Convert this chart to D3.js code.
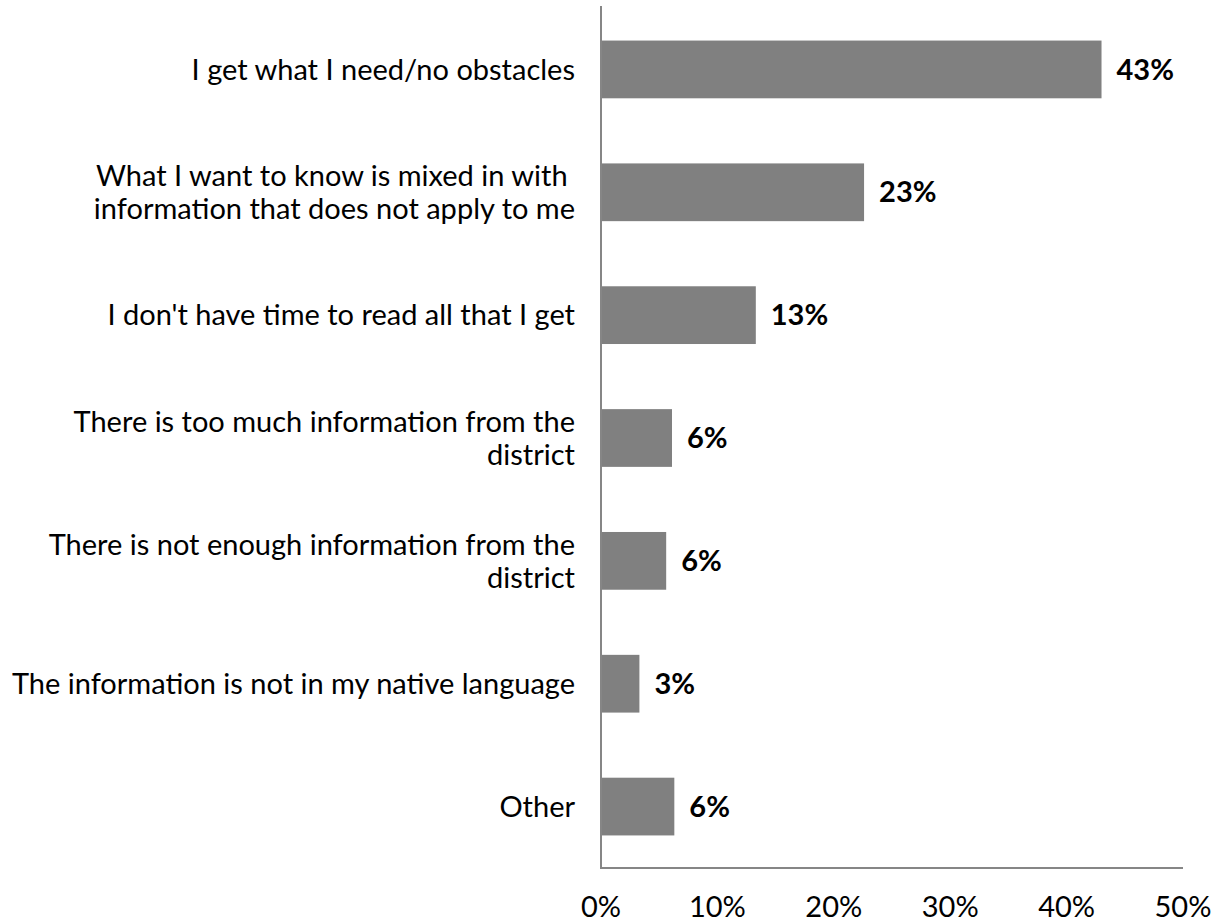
<!DOCTYPE html>
<html><head><meta charset="utf-8">
<script src="https://cdn.jsdelivr.net/npm/d3@7"></script>
<style>body{margin:0;background:#fff}text{font-family:Lato,"Open Sans",sans-serif;white-space:pre}</style>
</head><body><svg id="c" width="1223" height="924"></svg>
<script>
const categories = [
  ["I get what I need/no obstacles"],
  ["What I want to know is mixed in with ", "information that does not apply to me"],
  ["I don't have time to read all that I get"],
  ["There is too much information from the", "district"],
  ["There is not enough information from the", "district"],
  ["The information is not in my native language"],
  ["Other"]
];
const values = [43.0, 22.6, 13.3, 6.1, 5.6, 3.3, 6.3];
const valueLabels = ["43%", "23%", "13%", "6%", "6%", "3%", "6%"];
const ticks = [0, 10, 20, 30, 40, 50];

(function(){
const svg = d3.select("#c");
const mLeft = 601, mRight = 1183, mTop = 6, mBottom = 868;
const x = d3.scaleLinear().domain([0, 50]).range([mLeft, mRight]);
const y = d3.scaleBand().domain(d3.range(categories.length)).range([mTop + 2, mBottom]).paddingInner(0.53).paddingOuter(0.265);

svg.selectAll("rect.bar").data(values).join("rect").attr("class","bar")
  .attr("x", x(0)).attr("y", (d,i)=>y(i)).attr("width", d=>x(d)-x(0)).attr("height", y.bandwidth())
  .attr("fill", "#808080");

svg.selectAll("text.val").data(values).join("text").attr("class","val")
  .attr("x", d=>x(d)+15).attr("y", (d,i)=>y(i)+y.bandwidth()/2).attr("dy","0.35em")
  .attr("font-size", 29).attr("font-weight", "bold").attr("fill", "#000")
  .text((d,i)=>valueLabels[i]);

const lab = svg.selectAll("text.cat").data(categories).join("text").attr("class","cat")
  .attr("text-anchor","end").attr("font-size", 29).attr("fill","#000");
lab.each(function(lines, i){
  const cy = y(i) + y.bandwidth()/2;
  const lh = 33;
  const start = cy - (lines.length-1)*lh/2;
  d3.select(this).selectAll("tspan").data(lines).join("tspan")
    .attr("x", 575).attr("y", (d,j)=>start + j*lh).attr("dy","0.35em").text(d=>d);
});

svg.append("line").attr("x1", mLeft).attr("x2", mLeft).attr("y1", mTop).attr("y2", mBottom+1)
  .attr("stroke", "#868686").attr("stroke-width", 2);
svg.append("line").attr("x1", mLeft).attr("x2", mRight).attr("y1", mBottom).attr("y2", mBottom)
  .attr("stroke", "#868686").attr("stroke-width", 2);

svg.selectAll("text.tick").data(ticks).join("text").attr("class","tick")
  .attr("x", d=>x(d)).attr("y", 907).attr("dy","0.35em").attr("text-anchor","middle")
  .attr("font-size", 29).attr("fill","#000").text(d=>d+"%");
})();
</script></body></html>
